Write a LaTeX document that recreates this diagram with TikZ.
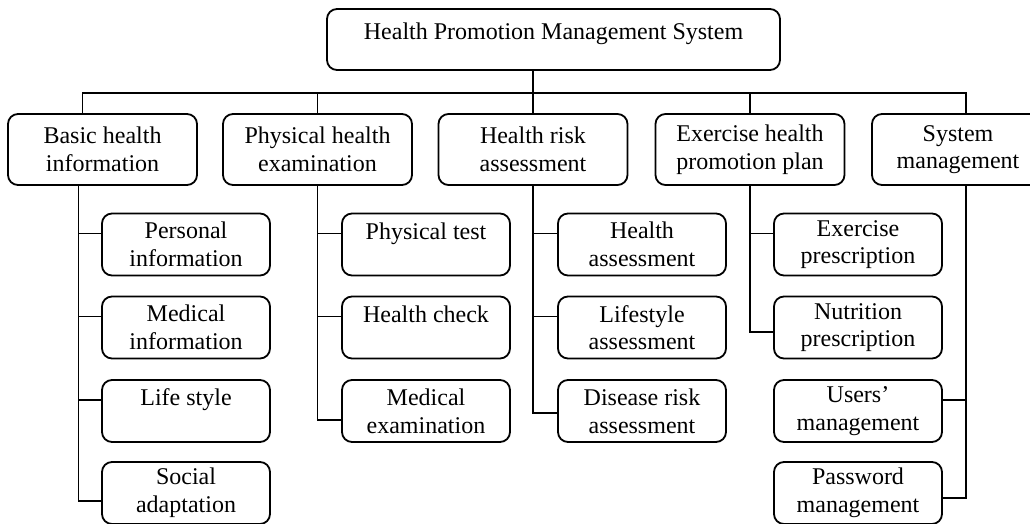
\documentclass[tikz,border=0pt]{standalone}
\usepackage{fontspec}
\setmainfont{Liberation Serif}
\usepackage{tikz}
\usetikzlibrary{positioning,calc}

\begin{document}
\begin{tikzpicture}[x=0.5pt, y=-0.5pt,
        box/.style={rectangle, draw=black, line width=0.9pt, rounded corners=5pt, minimum width=94.5pt, minimum height=35.5pt, align=center, inner sep=1pt, font=\fontsize{12}{13.8}\selectfont},
        topbox/.style={box, minimum width=226.5pt, minimum height=30.5pt},
        subbox/.style={box, minimum width=84pt, minimum height=31pt},
        link/.style={line width=0.9pt}]

        \useasboundingbox (0,0) rectangle (1030,524);

        \node[topbox] (hpms) at (553.5,39.5) {Health Promotion Management System\\[-5pt]\mbox{}};

        \node[box] (basic) at (102.5,149.5) {Basic health\\information};
        \node[box] (phys) at (317.5,149.5) {Physical health\\examination};
        \node[box] (risk) at (533,149.5) {Health risk\\assessment};
        \node[box] (plan) at (750,149.5) {Exercise health\\promotion plan};
        \node[box, minimum width=86pt] (sysm) at (958,149.5) {System\\management};

        \node[subbox] (pinfo) at (186,244.5) {Personal\\information};
        \node[subbox] (minfo) at (186,327.5) {Medical\\information};
        \node[subbox] (life) at (186,411) {Life style\\\mbox{}};
        \node[subbox] (social) at (186,493) {Social\\adaptation};

        \node[subbox] (ptest) at (426,244.5) {Physical test\\\mbox{}};
        \node[subbox] (hcheck) at (426,327.5) {Health check\\\mbox{}};
        \node[subbox] (mexam) at (426,411) {Medical\\examination};

        \node[subbox] (hass) at (642,244.5) {Health\\assessment};
        \node[subbox] (lass) at (642,327.5) {Lifestyle\\assessment};
        \node[subbox] (dra) at (642,411) {Disease risk\\assessment};

        \node[subbox] (epre) at (858,244.5) {Exercise\\prescription};
        \node[subbox] (npre) at (858,327.5) {Nutrition\\prescription};
        \node[subbox] (users) at (858,411) {Users’\\management};
        \node[subbox] (pwd) at (858,493) {Password\\management};

        % bus under the system box
        \coordinate (bus) at (533,93);
        \draw[link] (hpms.south -| bus) -- (bus);
        \draw[link] ([xshift=-10pt]basic.north) |- (bus);
        \draw[link] (phys.north) |- (bus);
        \draw[link] (risk.north) -- (bus);
        \draw[link] (plan.north) |- (bus);
        \draw[link] ([xshift=4pt]sysm.north) |- (bus);

        % trunks and branches
        \coordinate (tbasic) at ([xshift=-12pt]basic.south);
        \coordinate (tsysm) at ([xshift=4pt]sysm.south);

        \draw[link] (tbasic) |- ([yshift=-4pt]social.west);
        \foreach \n in {pinfo,minfo,life}
            \draw[link] ([yshift=5.5pt]\n.west) -| (tbasic);

        \draw[link] (phys.south) |- ([yshift=-4.5pt]mexam.west);
        \foreach \n in {ptest,hcheck}
            \draw[link] ([yshift=5.5pt]\n.west) -| (phys.south);

        \draw[link] (risk.south) |- ([yshift=-1pt]dra.west);
        \foreach \n in {hass,lass}
            \draw[link] ([yshift=5.5pt]\n.west) -| (risk.south);

        \draw[link] (plan.south) |- ([yshift=-2.25pt]npre.west);
        \draw[link] ([yshift=5.5pt]epre.west) -| (plan.south);

        \draw[link] (tsysm) |- ([yshift=-2.5pt]pwd.east);
        \draw[link] ([yshift=5.5pt]users.east) -| (tsysm);

    \end{tikzpicture}
\end{document}
